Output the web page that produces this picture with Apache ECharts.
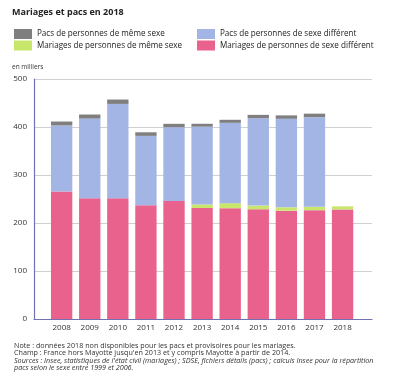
<!DOCTYPE html>
<html><head><meta charset="utf-8">
<script src="https://cdn.jsdelivr.net/npm/echarts@6/dist/echarts.min.js"></script>
<style>html,body{margin:0;padding:0;background:#fff}#c{width:400px;height:388px}</style>
</head><body><div id="c"></div>
<script>
const years = ['2008','2009','2010','2011','2012','2013','2014','2015','2016','2017','2018'];
const mariagesDiff = [265.4,251.5,251.7,236.8,245.9,231.2,230.8,228.6,225.6,226.7,228.3];
const mariagesMeme = [null,null,null,null,null,7.4,10.5,7.8,7.1,7.2,6.4];
const pacsDiff = [137.8,166.1,196.4,144.7,153.7,162.0,167.4,181.9,184.4,186.6,null];
const pacsMeme = [8.2,8.4,9.1,7.5,7.0,6.1,6.3,7.0,7.1,7.3,null];
const yTicks = {min:0,max:500,interval:100};

const FONT = '"Open Sans", sans-serif';
const chart = echarts.init(document.getElementById('c'), null, {renderer:'canvas'});
const legendText = {fontSize:8.1, color:'#222', fontFamily:FONT};
chart.setOption({
  animation:false,
  textStyle:{fontFamily:FONT},
  title:[
    {text:'Mariages et pacs en 2018', left:12, top:8, padding:0, textStyle:{fontSize:9, fontWeight:'bold', color:'#222', fontFamily:FONT}},
    {text:'en milliers', left:12, top:64, padding:0, textStyle:{fontSize:6.5, fontWeight:'normal', color:'#333', fontFamily:FONT}},
    {text:'Note : données 2018 non disponibles pour les pacs et provisoires pour les mariages.\nChamp : France hors Mayotte jusqu\'en 2013 et y compris Mayotte à partir de 2014.',
     left:14, top:342, padding:0, textStyle:{fontSize:7.2, lineHeight:7.6, fontWeight:'normal', color:'#333', fontFamily:FONT}},
    {text:'Sources : Insee, statistiques de l\'état civil (mariages) ; SDSE, fichiers détails (pacs) ; calculs Insee pour la répartition\npacs selon le sexe entre 1999 et 2006.',
     left:14, top:357, padding:0, textStyle:{fontSize:7.2, lineHeight:7.6, fontWeight:'normal', fontStyle:'italic', color:'#333', fontFamily:FONT}}
  ],
  legend:[
    {orient:'vertical', left:14, top:29, padding:0, itemWidth:18, itemHeight:10, itemGap:1.5, icon:'rect',
     data:['Pacs de personnes de même sexe','Mariages de personnes de même sexe'], textStyle:legendText, selectedMode:false},
    {orient:'vertical', left:197, top:29, padding:0, itemWidth:18, itemHeight:10, itemGap:1.5, icon:'rect',
     data:['Pacs de personnes de sexe différent','Mariages de personnes de sexe différent'], textStyle:legendText, selectedMode:false}
  ],
  grid:[
    {left:47.6, right:43.4, top:79, bottom:69},
    {left:34, right:28, top:79, bottom:69}
  ],
  xAxis:[
    {type:'category', gridIndex:0, data:years, axisLine:{show:false}, axisTick:{show:false},
     axisLabel:{fontSize:8, color:'#333', margin:5, fontFamily:FONT}},
    {type:'category', gridIndex:1, data:years, axisLine:{show:true, lineStyle:{color:'#7272b0', width:1.2}}, axisTick:{show:false}, axisLabel:{show:false}}
  ],
  yAxis:[
    {type:'value', gridIndex:0, min:yTicks.min, max:yTicks.max, interval:yTicks.interval, show:false, splitLine:{show:false}},
    {type:'value', gridIndex:1, min:yTicks.min, max:yTicks.max, interval:yTicks.interval, z:0,
     axisLine:{show:true, lineStyle:{color:'#7272b0', width:1.2}}, axisTick:{show:false},
     axisLabel:{fontSize:8, color:'#333', margin:7, fontFamily:FONT},
     splitLine:{show:true, lineStyle:{color:'#d0d0d0', width:1}}}
  ],
  series:[
    {name:'Mariages de personnes de sexe différent', type:'bar', stack:'a', data:mariagesDiff, barWidth:'76%', itemStyle:{color:'#e8628d'}},
    {name:'Mariages de personnes de même sexe', type:'bar', stack:'a', data:mariagesMeme, barWidth:'76%', itemStyle:{color:'#c8e66b'}},
    {name:'Pacs de personnes de sexe différent', type:'bar', stack:'a', data:pacsDiff, barWidth:'76%', itemStyle:{color:'#a3b5e4'}},
    {name:'Pacs de personnes de même sexe', type:'bar', stack:'a', data:pacsMeme, barWidth:'76%', itemStyle:{color:'#7f7f7f'}}
  ]
});
</script></body></html>
